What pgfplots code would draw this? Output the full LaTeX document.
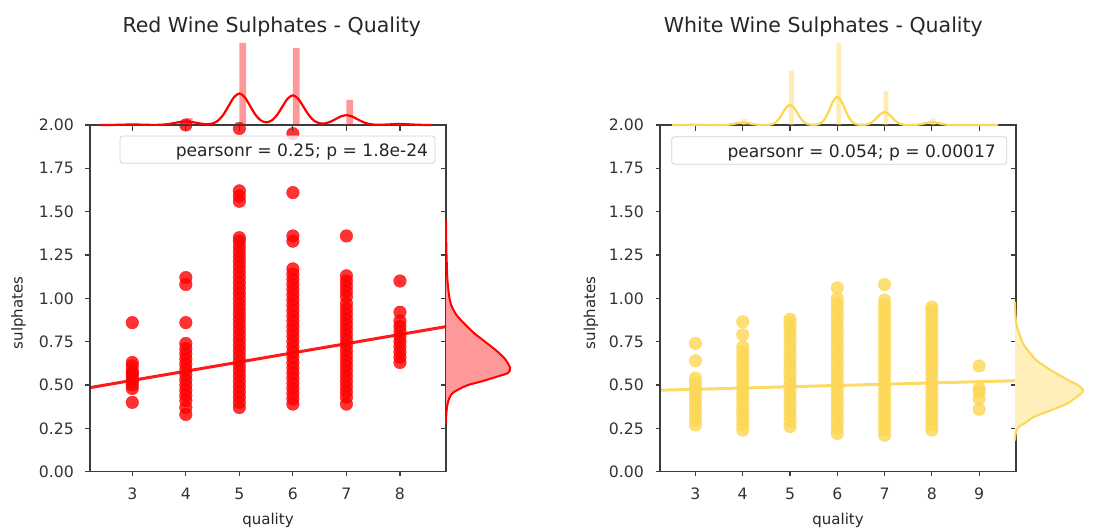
\documentclass[border=0pt]{standalone}
\usepackage{fontspec}
\setmainfont{DejaVu Sans}
\usepackage{pgfplots}
\pgfplotsset{compat=1.18}
\definecolor{rw}{RGB}{255,0,0}
\definecolor{ww}{RGB}{252,215,84}
\definecolor{spine}{RGB}{60,60,60}
\pgfplotsset{
  geom/.style={anchor=south west, scale only axis, width=356pt, height=346.7pt,
    ymin=0, ymax=2, ytick={0,0.25,0.5,0.75,1,1.25,1.5,1.75,2},
    axis line style={draw=spine, line width=1.2pt},
    every tick/.style={spine, line width=1.1pt}},
  mainax/.style={geom, tick align=outside, tick pos=left, major tick length=4.5pt,
    /pgf/number format/assume math mode=true,
    tick label style={font=\fontsize{15.7}{18}\selectfont, text=black!80},
    y tick label style={/pgf/number format/.cd, fixed, fixed zerofill, precision=2, /tikz/.cd, inner sep=0pt, xshift=-11.5pt},
    x tick label style={inner sep=0pt, yshift=-11.3pt},
    clip=true},
  overax/.style={geom, tick align=inside, tick pos=right, major tick length=5.5pt,
    xticklabels={}, yticklabels={}},
  margtop/.style={anchor=south west, scale only axis, width=356pt, height=85pt,
    ymin=0, ymax=85, axis lines=none, clip=false},
  margright/.style={anchor=south west, scale only axis, height=346.7pt,
    ymin=0, ymax=2, xmin=0, axis lines=none, clip=false},
  sc/.style={only marks, mark=*, mark size=6.3pt, color=#1, opacity=0.8},
}
\begin{document}
\begin{tikzpicture}
\useasboundingbox (0,0) rectangle (1098pt,531pt);
% ================= RED =================
\begin{axis}[mainax, at={(90pt,59.3pt)}, xmin=2.21, xmax=8.86, xtick={3,4,5,6,7,8}]
\addplot[sc=rw] coordinates {
(3,0.40)(3,0.48)(3,0.50)(3,0.52)(3,0.53)(3,0.54)(3,0.56)(3,0.57)(3,0.58)(3,0.61)(3,0.63)(3,0.86)
(4,0.33)(4,0.37)(4,0.41)(4,0.44)(4,0.47)(4,0.50)(4,0.53)(4,0.56)(4,0.59)(4,0.62)(4,0.65)(4,0.68)(4,0.71)(4,0.74)(4,0.86)(4,1.08)(4,1.12)(4,2.00)
(5,0.37)(5,0.40)(5,0.43)(5,0.46)(5,0.49)(5,0.52)(5,0.55)(5,0.58)(5,0.61)(5,0.64)(5,0.67)(5,0.70)(5,0.73)(5,0.76)(5,0.79)(5,0.82)(5,0.85)(5,0.88)(5,0.91)(5,0.94)(5,0.97)(5,1.00)(5,1.03)(5,1.06)(5,1.09)(5,1.12)(5,1.15)(5,1.18)(5,1.21)(5,1.24)(5,1.27)(5,1.30)(5,1.33)(5,1.35)(5,1.56)(5,1.59)(5,1.62)(5,1.98)
(6,0.39)(6,0.42)(6,0.45)(6,0.48)(6,0.51)(6,0.54)(6,0.57)(6,0.60)(6,0.63)(6,0.66)(6,0.69)(6,0.72)(6,0.75)(6,0.78)(6,0.81)(6,0.84)(6,0.87)(6,0.90)(6,0.93)(6,0.96)(6,0.99)(6,1.02)(6,1.05)(6,1.08)(6,1.11)(6,1.14)(6,1.17)(6,1.33)(6,1.36)(6,1.61)(6,1.95)
(7,0.39)(7,0.43)(7,0.46)(7,0.49)(7,0.52)(7,0.55)(7,0.58)(7,0.61)(7,0.64)(7,0.67)(7,0.70)(7,0.73)(7,0.76)(7,0.79)(7,0.82)(7,0.85)(7,0.88)(7,0.91)(7,0.94)(7,0.97)(7,1.01)(7,1.04)(7,1.07)(7,1.10)(7,1.13)(7,1.36)
(8,0.63)(8,0.66)(8,0.69)(8,0.72)(8,0.75)(8,0.78)(8,0.81)(8,0.84)(8,0.87)(8,0.92)(8,1.10)
};
\addplot[rw, line width=3pt, opacity=0.9] coordinates {(2.21,0.485)(8.86,0.837)};
\end{axis}
\begin{axis}[overax, at={(90pt,59.3pt)}, xmin=2.21, xmax=8.86, xtick={3,4,5,6,7,8}]
\end{axis}
\begin{axis}[margtop, at={(90pt,406pt)}, xmin=2.21, xmax=8.86]
\addplot[ybar, bar width=0.125, bar shift=0pt, fill=rw, fill opacity=0.4, draw=none] coordinates {
(3.0625,1.2)(4.0625,6.8)(5.0625,82)(6.0625,77)(7.0625,25)(7.9375,2.2)};
\addplot[rw, line width=2.2pt, smooth] coordinates {
(2.4,0.006)(2.5,0.022)(2.6,0.068)(2.7,0.16)(2.8,0.30)(2.9,0.44)(3.0,0.5)(3.1,0.44)(3.2,0.30)(3.3,0.17)(3.4,0.11)(3.5,0.18)(3.6,0.48)(3.7,1.14)(3.8,2.12)(3.9,3.09)(4.0,3.5)(4.1,3.09)(4.2,2.13)(4.3,1.21)(4.4,0.82)(4.5,1.54)(4.6,4.30)(4.7,10.24)(4.8,19.10)(4.9,27.80)(5.0,31.5)(5.1,27.80)(5.2,19.11)(5.3,10.29)(5.4,4.59)(5.5,2.69)(5.6,4.37)(5.7,9.71)(5.8,18.02)(5.9,26.21)(6.0,29.7)(6.1,26.21)(6.2,18.01)(6.3,9.66)(6.4,4.13)(6.5,1.73)(6.6,1.66)(6.7,3.25)(6.8,5.95)(6.9,8.65)(7.0,9.8)(7.1,8.65)(7.2,5.94)(7.3,3.18)(7.4,1.34)(7.5,0.47)(7.6,0.24)(7.7,0.35)(7.8,0.61)(7.9,0.88)(8.0,1.0)(8.1,0.88)(8.2,0.61)(8.3,0.32)(8.4,0.14)(8.5,0.04)(8.6,0.01)};
\end{axis}
\begin{axis}[margright, at={(446pt,59.3pt)}, width=66pt, xmax=66]
\addplot[fill=rw!40, draw=rw, line width=2pt, smooth] coordinates {
(0,0.28)(0.3,0.33)(1.2,0.38)(3,0.42)(6,0.45)(11,0.47)(22,0.50)(35,0.52)(52,0.55)(62,0.57)(64,0.60)(59,0.65)(50,0.70)(39,0.75)(28,0.80)(19,0.85)(11,0.90)(6,0.95)(3.5,1.00)(1.5,1.10)(0.8,1.20)(0.3,1.30)(0,1.45)};
\end{axis}
% ================= WHITE =================
\begin{axis}[mainax, at={(660pt,59.3pt)}, xmin=2.25, xmax=9.78, xtick={3,4,5,6,7,8,9}]
\addplot[sc=ww] coordinates {
(3,0.27)(3,0.30)(3,0.33)(3,0.36)(3,0.39)(3,0.42)(3,0.45)(3,0.48)(3,0.51)(3,0.54)(3,0.64)(3,0.74)
(4,0.24)(4,0.27)(4,0.30)(4,0.33)(4,0.36)(4,0.39)(4,0.42)(4,0.45)(4,0.48)(4,0.51)(4,0.54)(4,0.57)(4,0.60)(4,0.63)(4,0.66)(4,0.69)(4,0.72)(4,0.79)(4,0.865)
(5,0.26)(5,0.29)(5,0.32)(5,0.35)(5,0.38)(5,0.41)(5,0.44)(5,0.47)(5,0.50)(5,0.53)(5,0.56)(5,0.59)(5,0.62)(5,0.65)(5,0.68)(5,0.71)(5,0.74)(5,0.77)(5,0.80)(5,0.83)(5,0.86)(5,0.88)
(6,0.22)(6,0.25)(6,0.28)(6,0.31)(6,0.34)(6,0.37)(6,0.40)(6,0.43)(6,0.46)(6,0.49)(6,0.52)(6,0.55)(6,0.58)(6,0.61)(6,0.64)(6,0.67)(6,0.70)(6,0.73)(6,0.76)(6,0.79)(6,0.82)(6,0.85)(6,0.88)(6,0.91)(6,0.94)(6,0.97)(6,1.00)(6,1.06)
(7,0.21)(7,0.24)(7,0.27)(7,0.30)(7,0.33)(7,0.36)(7,0.39)(7,0.42)(7,0.45)(7,0.48)(7,0.51)(7,0.54)(7,0.57)(7,0.60)(7,0.63)(7,0.66)(7,0.69)(7,0.72)(7,0.75)(7,0.78)(7,0.81)(7,0.84)(7,0.87)(7,0.90)(7,0.93)(7,0.96)(7,0.99)(7,1.08)
(8,0.24)(8,0.27)(8,0.30)(8,0.33)(8,0.36)(8,0.39)(8,0.42)(8,0.45)(8,0.48)(8,0.51)(8,0.54)(8,0.57)(8,0.60)(8,0.63)(8,0.66)(8,0.69)(8,0.72)(8,0.75)(8,0.78)(8,0.81)(8,0.84)(8,0.87)(8,0.90)(8,0.93)(8,0.95)
(9,0.36)(9,0.42)(9,0.46)(9,0.48)(9,0.61)
};
\addplot[ww, line width=3pt, opacity=0.9] coordinates {(2.25,0.47)(9.78,0.525)};
\end{axis}
\begin{axis}[overax, at={(660pt,59.3pt)}, xmin=2.25, xmax=9.78, xtick={3,4,5,6,7,8,9}]
\end{axis}
\begin{axis}[margtop, at={(660pt,406pt)}, xmin=2.25, xmax=9.78]
\addplot[ybar, bar width=0.1, bar shift=0pt, fill=ww, fill opacity=0.45, draw=none] coordinates {
(3.03,0.75)(4.03,6.1)(5.03,54)(6.03,82)(7.03,33.6)(8.03,6.5)(8.97,0.3)};
\addplot[ww, line width=2.2pt, smooth] coordinates {
(2.5,0)(2.6,0.004)(2.7,0.04)(2.8,0.12)(2.9,0.24)(3.0,0.3)(3.1,0.24)(3.2,0.12)(3.3,0.04)(3.4,0.01)(3.5,0.01)(3.6,0.07)(3.7,0.34)(3.8,1.03)(3.9,2.0)(4.0,2.5)(4.1,2.0)(4.2,1.03)(4.3,0.34)(4.4,0.08)(4.5,0.09)(4.6,0.58)(4.7,2.75)(4.8,8.35)(4.9,16.25)(5.0,20.3)(5.1,16.25)(5.2,8.35)(5.3,2.75)(5.4,0.59)(5.5,0.19)(5.6,0.81)(5.7,3.83)(5.8,11.63)(5.9,22.66)(6.0,28.3)(6.1,22.66)(6.2,11.63)(6.3,3.83)(6.4,0.81)(6.5,0.16)(6.6,0.37)(6.7,1.76)(6.8,5.34)(6.9,10.41)(7.0,13.0)(7.1,10.41)(7.2,5.34)(7.3,1.76)(7.4,0.37)(7.5,0.06)(7.6,0.08)(7.7,0.38)(7.8,1.15)(7.9,2.24)(8.0,2.8)(8.1,2.24)(8.2,1.15)(8.3,0.38)(8.4,0.08)(8.5,0.01)(8.6,0)(8.7,0.01)(8.8,0.04)(8.9,0.08)(9.0,0.1)(9.1,0.08)(9.2,0.04)(9.3,0.01)(9.4,0)};
\end{axis}
\begin{axis}[margright, at={(1015pt,59.3pt)}, width=83pt, xmax=83]
\addplot[fill=ww!40, draw=ww, line width=2pt, smooth] coordinates {
(0,0.18)(0.3,0.20)(1,0.23)(4,0.26)(10,0.28)(17,0.31)(28,0.337)(43,0.37)(53,0.395)(59,0.42)(66,0.45)(68,0.471)(63,0.50)(56,0.52)(41,0.568)(32,0.60)(21,0.645)(13,0.70)(8,0.74)(4,0.80)(1.5,0.846)(0.5,0.90)(0,0.98)};
\end{axis}
% ================= TEXT =================
\draw[rounded corners=3pt, draw=black!18, line width=0.8pt, fill=white, fill opacity=0.8] (120pt,367.7pt) rectangle (435pt,395pt);
\node[anchor=base east, inner sep=0pt, text=black!85, font=\fontsize{17.1}{20}\selectfont] at (428.3pt,374.3pt) {pearsonr = 0.25; p = 1.8e-24};
\draw[rounded corners=3pt, draw=black!18, line width=0.8pt, fill=white, fill opacity=0.8] (671.7pt,366.7pt) rectangle (1006.7pt,394.3pt);
\node[anchor=base east, inner sep=0pt, text=black!85, font=\fontsize{17.1}{20}\selectfont] at (996pt,373.7pt) {pearsonr = 0.054; p = 0.00017};
\node[anchor=base, inner sep=0pt, text=black!85, font=\fontsize{20.5}{24}\selectfont] at (271.7pt,498.7pt) {Red Wine Sulphates - Quality};
\node[anchor=base, inner sep=0pt, text=black!85, font=\fontsize{20.5}{24}\selectfont] at (823.3pt,498.7pt) {White Wine Sulphates - Quality};
\node[anchor=base, inner sep=0pt, text=black!85, font=\fontsize{15}{18}\selectfont] at (268pt,7pt) {quality};
\node[anchor=base, inner sep=0pt, text=black!85, font=\fontsize{15}{18}\selectfont] at (838pt,7pt) {quality};
\node[rotate=90, inner sep=0pt, text=black!85, font=\fontsize{15}{18}\selectfont] at (18.5pt,218pt) {sulphates};
\node[rotate=90, inner sep=0pt, text=black!85, font=\fontsize{15}{18}\selectfont] at (591pt,218pt) {sulphates};
\end{tikzpicture}
\end{document}
